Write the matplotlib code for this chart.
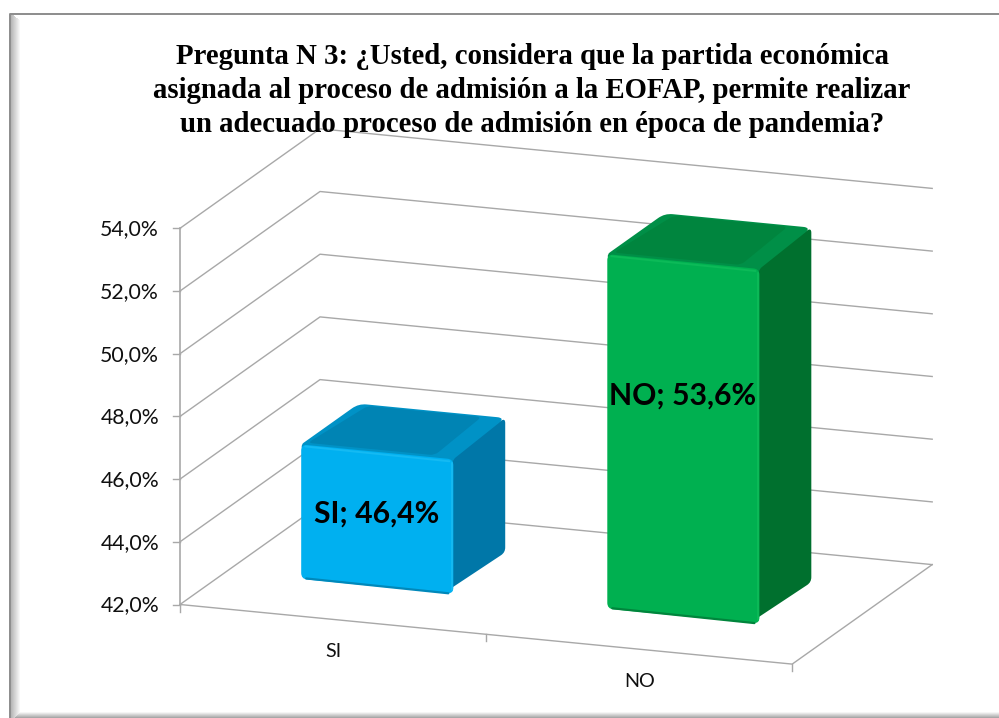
import matplotlib
matplotlib.use("Agg")
import matplotlib.pyplot as plt
import numpy as np
from matplotlib.patches import PathPatch
from matplotlib.path import Path

categories = ["SI", "NO"]
values = [46.4, 53.6]
label_text = ["SI; 46,4%", "NO; 53,6%"]
label_height = [44.33, 49.05]
y_ticks = [42, 44, 46, 48, 50, 52, 54]
y_tick_labels = ["42,0%", "44,0%", "46,0%", "48,0%", "50,0%", "52,0%", "54,0%"]
title_lines = [
    "Pregunta N 3: ¿Usted, considera que la partida económica",
    "asignada al proceso de admisión a la EOFAP, permite realizar",
    "un adecuado proceso de admisión en época de pandemia?",
]

# colours: front, side, top, top edge, front highlight, bottom shade
blue = ["#00B0F0", "#0077A8", "#0084B4", "#0092C6", "#14BAF3", "#0088BA"]
green = ["#00B050", "#00702E", "#00853E", "#008F47", "#0CBA58", "#00853C"]

# pseudo 3d projection: x in categories, v in percent, d in depth 0..1
ORIGIN = np.array([180.0, 604.5])
X_VEC = np.array([306.1, 29.8])
D_VEC = np.array([140.0, -99.5])
V_STEP = 31.35
BAR_SHRINK = 0.975


def project(x, v, d=0.0):
    return ORIGIN + x * X_VEC + d * D_VEC + np.array([0, -(v - 42) * V_STEP])


def rounded(pts, r):
    # closed polygon with its corners rounded off, r is one radius or one per corner
    verts, codes = [], []
    n = len(pts)
    radii = r if isinstance(r, list) else [r] * n
    for i in range(n):
        p, a, b = pts[i], pts[i - 1], pts[(i + 1) % n]
        p1 = p + radii[i] * (a - p) / np.linalg.norm(a - p)
        p2 = p + radii[i] * (b - p) / np.linalg.norm(b - p)
        verts += [p1, p, p2]
        codes += [Path.LINETO if i else Path.MOVETO, Path.CURVE3, Path.CURVE3]
    verts.append(verts[0])
    codes.append(Path.CLOSEPOLY)
    return Path(verts, codes)


def face(ax, pts, color, r=5, z=3):
    ax.add_patch(PathPatch(rounded(pts, r), fc=color, ec="none", zorder=z))


fig = plt.figure(figsize=(9.99, 7.18), dpi=100)
ax = fig.add_axes([0, 0, 1, 1])
ax.set_xlim(0, 999)
ax.set_ylim(718, 0)
ax.axis("off")

# frame with the grey bevel on the left and bottom
for i, c in enumerate(np.linspace(0.72, 0.97, 9)):
    ax.fill_between([11 + i, 12 + i], 14 + i * 0.7, 718, color=str(c), lw=0, zorder=1)
for i, c in enumerate(np.linspace(0.96, 0.66, 6)):
    ax.fill_between([20 - i, 999], 712 + i, 713 + i, color=str(c), lw=0, zorder=1)
ax.plot([10, 10, 999], [718, 13.5, 13.5], color="#8C8C8C", lw=1.4, zorder=2)

# walls and floor
grid_color = "#A8A8A8"
for v in y_ticks:
    a, b, c = project(0, v), project(0, v, 1), project(2, v, 1)
    ax.plot([a[0], b[0], c[0]], [a[1], b[1], c[1]], color=grid_color, lw=1.0, zorder=2)
    ax.plot([a[0] - 7, a[0]], [a[1], a[1]], color=grid_color, lw=1.0, zorder=2)
    ax.text(a[0] - 21, a[1] + 1, y_tick_labels[y_ticks.index(v)], family="Lato",
            fontsize=15.3, ha="right", va="center", color="#101010", zorder=6)

a, b, c = project(0, 42), project(0, 54), project(2, 42)
e = project(2, 42, 1)
ax.plot([a[0], b[0]], [a[1], b[1]], color=grid_color, lw=1.2, zorder=2)
ax.plot([a[0], c[0], e[0]], [a[1], c[1], e[1]], color=grid_color, lw=1.0, zorder=2)
for x in range(len(categories) + 1):
    p = project(x, 42)
    ax.plot([p[0], p[0]], [p[1], p[1] + 7], color=grid_color, lw=1.0, zorder=2)

# bars
bar_left = 0.245
bar_width = 0.497
d0, d1 = 0.33, 0.74
back_pull = 0.018
for i, (name, val) in enumerate(zip(categories, values)):
    cols = blue if i == 0 else green
    top = 42 + (val - 42) * BAR_SHRINK
    x0, x1 = i + bar_left, i + bar_left + bar_width

    fl, fr = project(x0, 42, d0), project(x1, 42, d0)
    tl, tr = project(x0, top, d0), project(x1, top, d0)
    bl2, br2 = project(x0, top, d1), project(x1 - back_pull, top, d1)
    rb = project(x1 - back_pull, 42, d1)

    # side and top run under the front face so its round corners show no gap
    face(ax, [project(x1 - 0.03, 42, d0), rb, br2, project(x1 - 0.03, top, d0)], cols[1], r=5)
    top_pts = [project(x0 + 0.01, top - 0.5, d0), tl, bl2, br2, tr, project(x1 - 0.01, top - 0.5, d0)]
    face(ax, top_pts, cols[3], r=[1, 3, 8, 8, 3, 1])
    inner = [project(x0 + 0.012, top, d0 + 0.02), project(x0 + 0.035, top, d1 - 0.012),
             project(x1 - 0.09, top, d1 - 0.012), project(x1 - 0.07, top, d0 + 0.02)]
    face(ax, inner, cols[2], r=5, z=3.1)
    face(ax, [fl, tl, tr, fr], cols[0], r=6, z=3.2)

    # bevel on the front face edges
    ax.plot([tl[0] + 4, tr[0] - 4], [tl[1] + 2, tr[1] + 2], color=cols[4], lw=1.4,
            solid_capstyle="round", zorder=3.3)
    ax.plot([tr[0] - 1.5, fr[0] - 1.5], [tr[1] + 4, fr[1] - 4], color=cols[4], lw=1.4,
            solid_capstyle="round", zorder=3.3)
    ax.plot([fl[0] + 5, fr[0] - 5], [fl[1] - 0.5, fr[1] - 0.5], color=cols[5], lw=1.6,
            solid_capstyle="round", zorder=3.3)

    # labels
    p = project(i + bar_left + bar_width / 2, label_height[i], d0)
    ax.text(p[0] - 1, p[1], label_text[i], family="Lato", fontweight="bold", fontsize=21.7,
            ha="center", va="center", color="black", zorder=7)
    q = project(i + 0.5, 42)
    ax.text(q[0], q[1] + 32, name, family="Lato", fontsize=14.2, ha="center", va="center",
            color="#101010", zorder=6)

# title
for line, y in zip(title_lines, [57, 91, 125]):
    ax.text(532, y, line, family="Liberation Serif", fontweight="bold", fontsize=20.7,
            ha="center", va="center", color="black", zorder=8)

fig.savefig("out.png", dpi=100)
